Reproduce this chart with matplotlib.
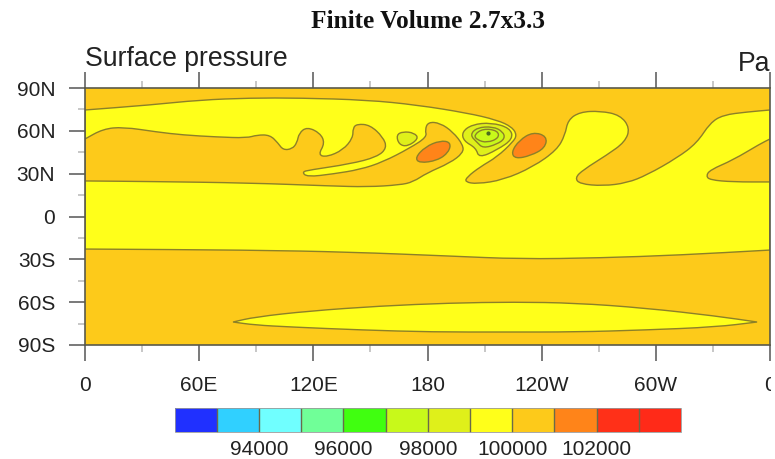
import numpy as np
import matplotlib
matplotlib.use('Agg')
import matplotlib.pyplot as plt
from matplotlib.colors import ListedColormap, BoundaryNorm
from matplotlib.cm import ScalarMappable
from matplotlib.path import Path
from matplotlib.patches import PathPatch
from matplotlib.transforms import Bbox

plt.rcParams['font.family'] = ['Liberation Sans', 'DejaVu Sans']

# colour levels
levels = list(range(92000, 105000, 1000))
level_colors = ['#2030ff', '#30d0ff', '#70ffff', '#70ff98', '#40ff10', '#c8f91a',
                '#dff01a', '#ffff1a', '#fdca1a', '#ff8419', '#ff3018', '#ff2a18']
cbar_ticks = [94000, 96000, 98000, 100000, 102000]
cbar_labels = ['94000', '96000', '98000', '100000', '102000']

lon_ticks = [0, 60, 120, 180, 240, 300, 360]
lon_labels = ['0', '60E', '120E', '180', '120W', '60W', '0']
lat_ticks = [-90, -60, -30, 0, 30, 60, 90]
lat_labels = ['90S', '60S', '30S', '0', '30N', '60N', '90N']

# contours (lon, lat), doubled points are sharp corners
yellow_main_lon = [0, 0, 34.2, 60.4, 86.7, 113, 148.2, 174.5, 200.8, 216.5, 224.4, 227, 224.9, 216.5, 207.6,
                   200.8, 199.7, 206, 219.7, 235.4, 248, 252.3, 253.8, 260.1, 270.7, 281.2, 286.4, 283.8,
                   274.3, 261.7, 257.5, 260.1, 272.2, 284.8, 295.4, 311.1, 321.6, 328.5, 335.3, 347.9,
                   360, 360, 360, 360, 312.7, 270.7, 228.6, 191.8, 139.3, 86.7, 0, 0]
yellow_main_lat = [74.6, 74.6, 78.1, 81.6, 83, 83, 81.6, 78.1, 72.5, 67.6, 62.7, 57, 52.2, 41.7, 34.7,
                   27.7, 24.2, 22.8, 25.6, 34.7, 46.6, 57.1, 67.6, 73.2, 73.9, 71.1, 62, 52.2,
                   43.1, 32.6, 27, 22.8, 21.4, 23.5, 29.1, 41, 51.5, 65.5, 71.1, 73.2,
                   74.6, 74.6, -23.5, -23.5, -27, -29, -29.8, -27.7, -24.9, -23.5, -22.8, -22.8]

orange_lobe_lon = [0, 0, 9.5, 20, 37.8, 51.5, 69.4, 85.1, 90.4, 97.2, 101.4, 104.1, 108.8, 111.4, 112.5, 116.7,
                   123.5, 126.1, 122.5, 127.2, 135.6, 140.8, 140.8, 143, 149.8, 156.6, 158.7, 153.5, 139.3,
                   118.2, 114, 116.7, 130.3, 144.5, 156.6, 170.8, 179.7, 178.7, 180.3, 186.6, 193.4,
                   198.7, 198.7, 191.8, 179.7, 172.4, 165.5, 148.2, 128.8, 86.7, 34.2, 0, 0]
orange_lobe_lat = [54.3, 54.3, 61.3, 62.7, 59.2, 57.1, 55.7, 55, 57.1, 57.1, 51.5, 46.6, 47.3, 51.5, 58.5, 62.7,
                   58.5, 51.5, 43.1, 41.7, 46.6, 55, 62, 64.8, 64.1, 55.7, 48, 41.7, 36.8,
                   32.6, 31.2, 27.7, 29.8, 32.9, 38.2, 48, 55.7, 60.6, 66.2, 65.5, 59.2,
                   50.1, 44.5, 37.5, 30.5, 24.2, 22.1, 20.7, 21.4, 23.5, 24.5, 24.9, 24.9]

orange_tongue_lon = [360, 360, 354.7, 340.6, 328.5, 326.4, 328.5, 340.6, 360, 360]
orange_tongue_lat = [54.3, 54.3, 50.8, 39.6, 32.6, 28.4, 25.6, 24.2, 24.2, 24.2]

yellow_south_lon = [77.8, 77.8, 89.3, 117.7, 155, 191.8, 225.5, 257.5, 294.3, 331.6, 353.2, 353.2,
                    331.6, 294.3, 257.5, 220.2, 182.9, 145.6, 108.3, 89.3]
yellow_south_lat = [-73.9, -73.9, -70.4, -66.2, -62.7, -60.6, -59.9, -60.6, -64.1, -69.7, -73.9, -73.9,
                    -77.4, -79.5, -80.9, -80.9, -80.9, -79.5, -77.4, -76]

high1_lon = [173.5, 178.8, 186.6, 192.3, 191.2, 185.2, 175.8]
high1_lat = [41.2, 48.8, 53.2, 52, 45, 39.2, 37.4]
high2_lon = [224, 228.2, 235.4, 242.8, 241.8, 234.2, 226.2]
high2_lat = [45, 53.4, 59.2, 56.2, 48, 42.6, 40.4]

spot_lon = [163.6, 167.1, 173, 175.4, 169.5, 165]
spot_lat = [57.1, 59.5, 58.6, 54.6, 49, 50.4]

ring1_lon = [198.1, 203.4, 213.4, 223.4, 225, 216.5, 207, 205.5, 199]
ring1_lat = [59.2, 64.4, 65.8, 62, 54.3, 46.6, 41, 48, 52.9]
ring2_lon = [202.3, 206, 214.4, 219.7, 220.7, 216.5, 209.2, 206]
ring2_lat = [57.1, 62.3, 63, 59.4, 54.6, 50.6, 47.8, 52]
ring3_lon = [204.4, 209.2, 216.9, 217.6, 211.4, 206]
ring3_lat = [57.1, 61.6, 60.2, 55, 51.6, 53.6]
centre_lon = [211.8]
centre_lat = [58.5]

# pressure inside each contour, in drawing order
shapes = [
    (yellow_main_lon, yellow_main_lat, 99500),
    (orange_lobe_lon, orange_lobe_lat, 100500),
    (orange_tongue_lon, orange_tongue_lat, 100500),
    (yellow_south_lon, yellow_south_lat, 99500),
    (high1_lon, high1_lat, 101500),
    (high2_lon, high2_lat, 101500),
    (spot_lon, spot_lat, 98500),
    (ring1_lon, ring1_lat, 98500),
    (ring2_lon, ring2_lat, 97500),
    (ring3_lon, ring3_lat, 97500),
]


def smooth_path(lon, lat):
    # closed curve through the midpoints, the read points act as control points
    pts = np.column_stack([lon, lat])
    mids = (pts + np.roll(pts, -1, axis=0)) / 2
    verts = [mids[-1]]
    codes = [Path.MOVETO]
    for p, m in zip(pts, mids):
        verts += [p, m]
        codes += [Path.CURVE3, Path.CURVE3]
    return Path(verts, codes)


cmap = ListedColormap(level_colors)
norm = BoundaryNorm(levels, cmap.N)

W, H = 775, 459
fig = plt.figure(figsize=(W / 100, H / 100), dpi=100)
ax = fig.add_axes([85 / W, 1 - 345 / H, 685 / W, 257 / H])
ax.set_xlim(0, 360)
ax.set_ylim(-90, 90)
ax.set_facecolor(cmap(norm(100500)))

for lon, lat, value in shapes:
    ax.add_patch(PathPatch(smooth_path(lon, lat), facecolor=cmap(norm(value)),
                           edgecolor='#8c8028', linewidth=1.0, zorder=2))
ax.plot(centre_lon, centre_lat, 'o', ms=2, color='#4a6a20', zorder=3)

# axis ticks
ax.set_xticks(lon_ticks)
ax.set_xticklabels(lon_labels)
ax.set_yticks(lat_ticks)
ax.set_yticklabels(lat_labels)
ax.set_xticks(np.arange(30, 360, 60), minor=True)
ax.set_yticks(np.arange(-75, 90, 30), minor=True)
ax.tick_params(axis='both', which='major', direction='out', length=11.5, width=1.1,
               color='#555555', labelcolor='#222222', labelsize=15)
ax.tick_params(axis='both', which='minor', direction='out', length=5, width=1.1, color='#b8b8b8')
ax.tick_params(axis='x', which='both', top=True)
ax.tick_params(axis='x', which='major', pad=10.5)
ax.tick_params(axis='y', which='major', pad=10)
for s in ax.spines.values():
    s.set_color('#5a5a4a')
    s.set_linewidth(1.2)
    s.set_zorder(5)

# the last label is cut off at the right side of the original
last = ax.get_xticklabels()[-1]
last.set_clip_box(Bbox.from_extents(0, 0, 771, H))
last.set_clip_on(True)

fig.text(428 / W, 1 - 21 / H, 'Finite Volume 2.7x3.3', family=['Liberation Serif', 'DejaVu Serif'],
         fontweight='bold', fontsize=18.3, ha='center', va='center', color='#111111')
fig.text(85 / W, 1 - 66 / H, 'Surface pressure', fontsize=19.2, ha='left', va='baseline', color='#222222')
fig.text(770 / W, 1 - 71 / H, 'Pa', fontsize=19.2, ha='right', va='baseline', color='#222222')

# colour bar
cax = fig.add_axes([174.5 / W, 1 - 432 / H, 506.5 / W, 24 / H])
cb = fig.colorbar(ScalarMappable(norm=norm, cmap=cmap), cax=cax, orientation='horizontal',
                  ticks=cbar_ticks, drawedges=True, spacing='proportional')
cb.ax.set_xticklabels(cbar_labels)
cb.ax.minorticks_off()
cb.ax.tick_params(length=0, pad=6, labelsize=15, labelcolor='#222222')
cb.outline.set_edgecolor('#999999')
cb.outline.set_linewidth(0.6)
cb.dividers.set_color('#6a6a4a')
cb.dividers.set_linewidth(1.0)

fig.savefig('out.png', dpi=100)
